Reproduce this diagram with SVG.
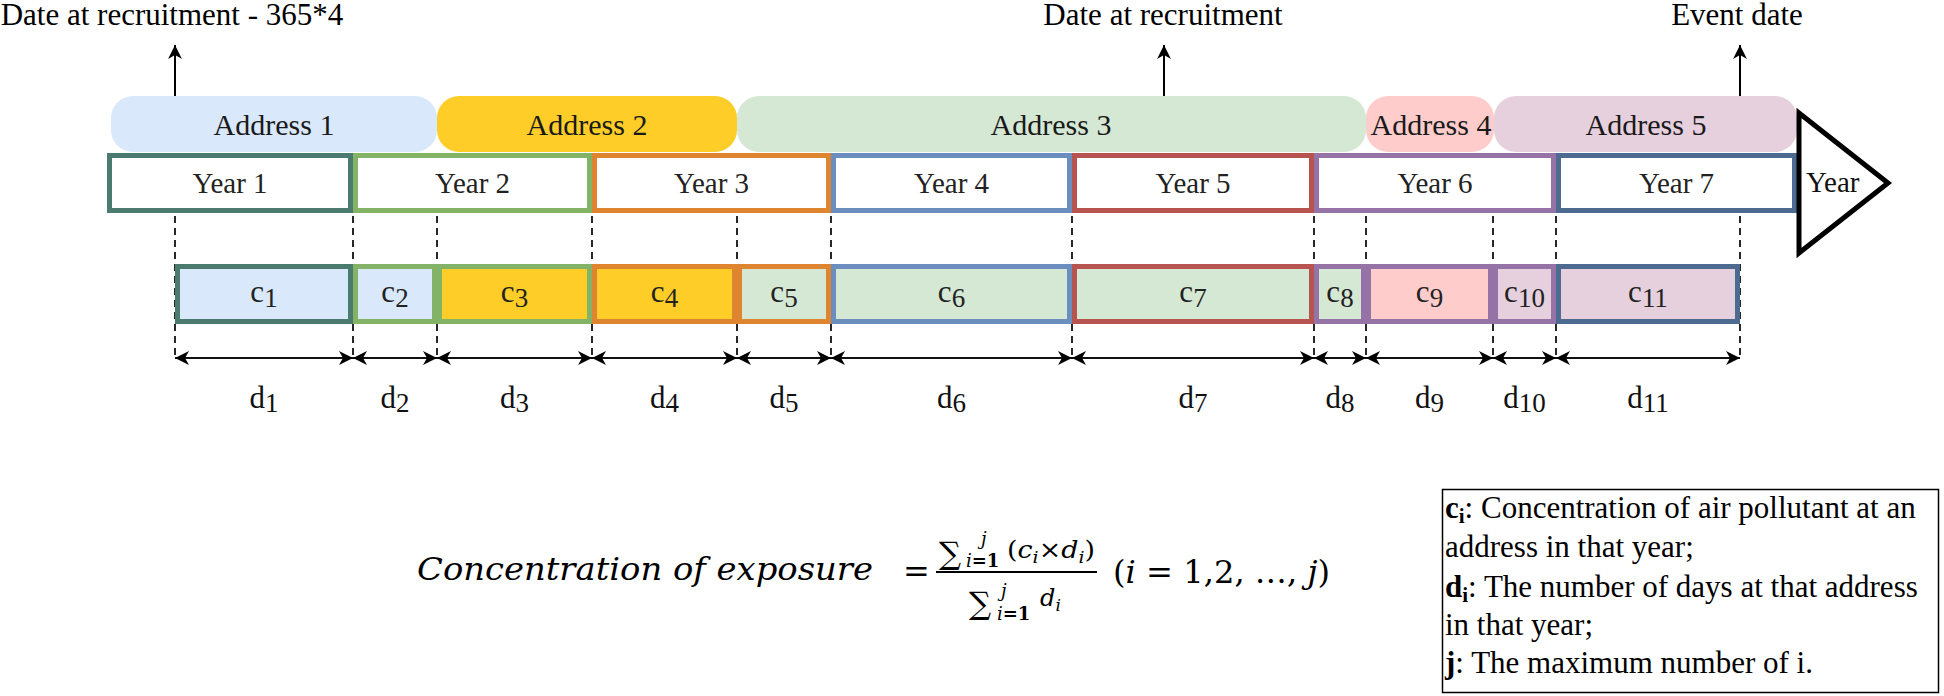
<svg xmlns="http://www.w3.org/2000/svg" width="1944" height="696" viewBox="0 0 1944 696">
<style>
  text { font-family: "Liberation Serif", "Times New Roman", serif; fill: #111; }
  .title { font-size: 31px; text-anchor: middle; fill: #000; }
  .addr { font-size: 30px; text-anchor: middle; fill: #1a1a1a; }
  .yr { font-size: 29px; text-anchor: middle; fill: #222; }
  .cl { font-size: 31px; text-anchor: middle; fill: #222; }
  .dl { font-size: 31px; text-anchor: middle; fill: #111; }
  .sub { font-size: 27px; }
  .ybox { fill: #fff; stroke-width: 5; }
  .cbox { stroke-width: 5; }
  .pill { stroke: none; }
  .dash { stroke: #111; stroke-width: 1.8; stroke-dasharray: 7 5; fill: none; }
  .dim { stroke: #111; stroke-width: 2; fill: none; marker-start: url(#ah); marker-end: url(#ah); }
  .up { stroke: #000; stroke-width: 2; fill: none; marker-end: url(#ah); }
  .leg { font-size: 31px; fill: #000; }
  .math { font-family: "DejaVu Serif", "Liberation Serif", serif; fill: #000; }
</style>
<defs>
  <marker id="ah" viewBox="0 0 14 14" refX="14" refY="7" markerWidth="14" markerHeight="14" markerUnits="userSpaceOnUse" orient="auto-start-reverse">
    <path d="M0,0 L14,7 L0,14 L4,7 z" fill="#000"/>
  </marker>
</defs>
<rect width="1944" height="696" fill="#fff"/>

<!-- connectors -->
<g id="connectors">
  <line class="dash" x1="175" y1="216" x2="175" y2="358"/>
  <line class="dash" x1="353" y1="216" x2="353" y2="358"/>
  <line class="dash" x1="437" y1="216" x2="437" y2="358"/>
  <line class="dash" x1="592" y1="216" x2="592" y2="358"/>
  <line class="dash" x1="737" y1="216" x2="737" y2="358"/>
  <line class="dash" x1="831" y1="216" x2="831" y2="358"/>
  <line class="dash" x1="1072" y1="216" x2="1072" y2="358"/>
  <line class="dash" x1="1314" y1="216" x2="1314" y2="358"/>
  <line class="dash" x1="1366" y1="216" x2="1366" y2="358"/>
  <line class="dash" x1="1493" y1="216" x2="1493" y2="358"/>
  <line class="dash" x1="1556" y1="216" x2="1556" y2="358"/>
  <line class="dash" x1="1740" y1="216" x2="1740" y2="358"/>

  <line class="dim" x1="175" y1="358" x2="353" y2="358"/>
  <line class="dim" x1="353" y1="358" x2="437" y2="358"/>
  <line class="dim" x1="437" y1="358" x2="592" y2="358"/>
  <line class="dim" x1="592" y1="358" x2="737" y2="358"/>
  <line class="dim" x1="737" y1="358" x2="831" y2="358"/>
  <line class="dim" x1="831" y1="358" x2="1072" y2="358"/>
  <line class="dim" x1="1072" y1="358" x2="1314" y2="358"/>
  <line class="dim" x1="1314" y1="358" x2="1366" y2="358"/>
  <line class="dim" x1="1366" y1="358" x2="1493" y2="358"/>
  <line class="dim" x1="1493" y1="358" x2="1556" y2="358"/>
  <line class="dim" x1="1556" y1="358" x2="1740" y2="358"/>

  <line class="up" x1="175" y1="97" x2="175" y2="45"/>
  <line class="up" x1="1164" y1="97" x2="1164" y2="45"/>
  <line class="up" x1="1740" y1="97" x2="1740" y2="45"/>
</g>

<!-- titles -->
<g id="title-start"><text class="title" x="172" y="25">Date at recruitment - 365*4</text></g>
<g id="title-recruit"><text class="title" x="1163" y="25">Date at recruitment</text></g>
<g id="title-event"><text class="title" x="1737" y="25">Event date</text></g>

<!-- address pills -->
<g id="address1"><rect class="pill" x="111" y="96" width="326" height="56" rx="22" fill="#dae8fc"/><text class="addr" x="274" y="135">Address 1</text></g>
<g id="address2"><rect class="pill" x="437" y="96" width="300" height="56" rx="22" fill="#ffcd28"/><text class="addr" x="587" y="135">Address 2</text></g>
<g id="address3"><rect class="pill" x="737" y="96" width="629" height="56" rx="22" fill="#d5e8d4"/><text class="addr" x="1051" y="135">Address 3</text></g>
<g id="address4"><rect class="pill" x="1366" y="96" width="128" height="56" rx="22" fill="#ffcccc"/><text class="addr" x="1431" y="135">Address 4</text></g>
<g id="address5"><rect class="pill" x="1494" y="96" width="303" height="56" rx="22" fill="#e6d0de"/><text class="addr" x="1646" y="135">Address 5</text></g>

<!-- year boxes -->
<g id="year1"><rect class="ybox" x="109.5" y="155.5" width="241" height="55" stroke="#4b7a6e"/><text class="yr" x="230" y="193">Year 1</text></g>
<g id="year2"><rect class="ybox" x="355.5" y="155.5" width="234" height="55" stroke="#82b366"/><text class="yr" x="472.5" y="193">Year 2</text></g>
<g id="year3"><rect class="ybox" x="594.5" y="155.5" width="234" height="55" stroke="#e0852f"/><text class="yr" x="711.5" y="193">Year 3</text></g>
<g id="year4"><rect class="ybox" x="833.5" y="155.5" width="236" height="55" stroke="#6c8ebf"/><text class="yr" x="951.5" y="193">Year 4</text></g>
<g id="year5"><rect class="ybox" x="1074.5" y="155.5" width="237" height="55" stroke="#b85450"/><text class="yr" x="1193" y="193">Year 5</text></g>
<g id="year6"><rect class="ybox" x="1316.5" y="155.5" width="237" height="55" stroke="#9673a6"/><text class="yr" x="1435" y="193">Year 6</text></g>
<g id="year7"><rect class="ybox" x="1558.5" y="155.5" width="236" height="55" stroke="#4d6a91"/><text class="yr" x="1676.5" y="193">Year 7</text></g>

<!-- year axis arrow -->
<g id="year-axis"><polygon points="1799,113 1888,183 1799,253" fill="#fff" stroke="#000" stroke-width="5" stroke-linejoin="miter"/><text x="1806" y="192" style="font-size:29px;fill:#111">Year</text></g>

<!-- c boxes -->
<g id="c1"><rect class="cbox" x="177.5" y="266.5" width="173" height="55" fill="#dae8fc" stroke="#4b7a6e"/><text class="cl" x="264" y="302">c<tspan class="sub" dy="5">1</tspan></text></g>
<g id="c2"><rect class="cbox" x="355.5" y="266.5" width="79" height="55" fill="#dae8fc" stroke="#82b366"/><text class="cl" x="395" y="302">c<tspan class="sub" dy="5">2</tspan></text></g>
<g id="c3"><rect class="cbox" x="439.5" y="266.5" width="150" height="55" fill="#ffcd28" stroke="#82b366"/><text class="cl" x="514.5" y="302">c<tspan class="sub" dy="5">3</tspan></text></g>
<g id="c4"><rect class="cbox" x="594.5" y="266.5" width="140" height="55" fill="#ffcd28" stroke="#e0852f"/><text class="cl" x="664.5" y="302">c<tspan class="sub" dy="5">4</tspan></text></g>
<g id="c5"><rect class="cbox" x="739.5" y="266.5" width="89" height="55" fill="#d5e8d4" stroke="#e0852f"/><text class="cl" x="784" y="302">c<tspan class="sub" dy="5">5</tspan></text></g>
<g id="c6"><rect class="cbox" x="833.5" y="266.5" width="236" height="55" fill="#d5e8d4" stroke="#6c8ebf"/><text class="cl" x="951.5" y="302">c<tspan class="sub" dy="5">6</tspan></text></g>
<g id="c7"><rect class="cbox" x="1074.5" y="266.5" width="237" height="55" fill="#d5e8d4" stroke="#b85450"/><text class="cl" x="1193" y="302">c<tspan class="sub" dy="5">7</tspan></text></g>
<g id="c8"><rect class="cbox" x="1316.5" y="266.5" width="47" height="55" fill="#d5e8d4" stroke="#9673a6"/><text class="cl" x="1340" y="302">c<tspan class="sub" dy="5">8</tspan></text></g>
<g id="c9"><rect class="cbox" x="1368.5" y="266.5" width="122" height="55" fill="#ffcccc" stroke="#9673a6"/><text class="cl" x="1429.5" y="302">c<tspan class="sub" dy="5">9</tspan></text></g>
<g id="c10"><rect class="cbox" x="1495.5" y="266.5" width="58" height="55" fill="#e6d0de" stroke="#9673a6"/><text class="cl" x="1524.5" y="302">c<tspan class="sub" dy="5">10</tspan></text></g>
<g id="c11"><rect class="cbox" x="1558.5" y="266.5" width="179" height="55" fill="#e6d0de" stroke="#4d6a91"/><text class="cl" x="1648" y="302">c<tspan class="sub" dy="5">11</tspan></text></g>

<!-- d labels -->
<g id="d1"><text class="dl" x="264" y="408">d<tspan class="sub" dy="4">1</tspan></text></g>
<g id="d2"><text class="dl" x="395" y="408">d<tspan class="sub" dy="4">2</tspan></text></g>
<g id="d3"><text class="dl" x="514.5" y="408">d<tspan class="sub" dy="4">3</tspan></text></g>
<g id="d4"><text class="dl" x="664.5" y="408">d<tspan class="sub" dy="4">4</tspan></text></g>
<g id="d5"><text class="dl" x="784" y="408">d<tspan class="sub" dy="4">5</tspan></text></g>
<g id="d6"><text class="dl" x="951.5" y="408">d<tspan class="sub" dy="4">6</tspan></text></g>
<g id="d7"><text class="dl" x="1193" y="408">d<tspan class="sub" dy="4">7</tspan></text></g>
<g id="d8"><text class="dl" x="1340" y="408">d<tspan class="sub" dy="4">8</tspan></text></g>
<g id="d9"><text class="dl" x="1429.5" y="408">d<tspan class="sub" dy="4">9</tspan></text></g>
<g id="d10"><text class="dl" x="1524.5" y="408">d<tspan class="sub" dy="4">10</tspan></text></g>
<g id="d11"><text class="dl" x="1648" y="408">d<tspan class="sub" dy="4">11</tspan></text></g>

<!-- formula -->
<g id="formula" class="math">
  <text class="math" x="417" y="580" font-size="32" font-style="italic" textLength="456" lengthAdjust="spacingAndGlyphs">Concentration of exposure</text>
  <text class="math" x="903" y="582" font-size="32">=</text>
  <line x1="936" y1="572" x2="1097" y2="572" stroke="#000" stroke-width="2"/>
  <text class="math" x="939" y="564" font-size="31">∑</text>
  <text class="math" x="981" y="545" font-size="18" font-style="italic">j</text>
  <text class="math" x="966" y="567" font-size="18"><tspan font-style="italic">i</tspan><tspan font-weight="bold">=1</tspan></text>
  <text class="math" x="1007" y="558" font-size="24" textLength="88" lengthAdjust="spacingAndGlyphs">(<tspan font-style="italic">c</tspan><tspan font-style="italic" font-size="17" dy="5">i</tspan><tspan dy="-5">×</tspan><tspan font-style="italic">d</tspan><tspan font-style="italic" font-size="17" dy="5">i</tspan><tspan dy="-5">)</tspan></text>
  <text class="math" x="969" y="614" font-size="31">∑</text>
  <text class="math" x="1001" y="597" font-size="18" font-style="italic">j</text>
  <text class="math" x="997" y="620" font-size="18"><tspan font-style="italic">i</tspan><tspan font-weight="bold">=1</tspan></text>
  <text class="math" x="1040" y="606" font-size="24"><tspan font-style="italic">d</tspan><tspan font-style="italic" font-size="17" dy="5">i</tspan></text>
  <text class="math" x="1113" y="583" font-size="32" textLength="217" lengthAdjust="spacingAndGlyphs">(<tspan font-style="italic">i</tspan> = 1,2, …, <tspan font-style="italic">j</tspan>)</text>
</g>

<!-- legend -->
<g id="legend">
  <rect x="1442.5" y="489.5" width="496" height="203" fill="#fff" stroke="#000" stroke-width="1.5"/>
  <text class="leg" x="1445" y="518"><tspan font-weight="bold">c</tspan><tspan font-weight="bold" font-size="21" dy="5">i</tspan><tspan dy="-5">: Concentration of air pollutant at an</tspan></text>
  <text class="leg" x="1445" y="557">address in that year;</text>
  <text class="leg" x="1445" y="597"><tspan font-weight="bold">d</tspan><tspan font-weight="bold" font-size="21" dy="5">i</tspan><tspan dy="-5">: The number of days at that address</tspan></text>
  <text class="leg" x="1445" y="635">in that year;</text>
  <text class="leg" x="1445" y="673"><tspan font-weight="bold">j</tspan>: The maximum number of i.</text>
</g>
</svg>
